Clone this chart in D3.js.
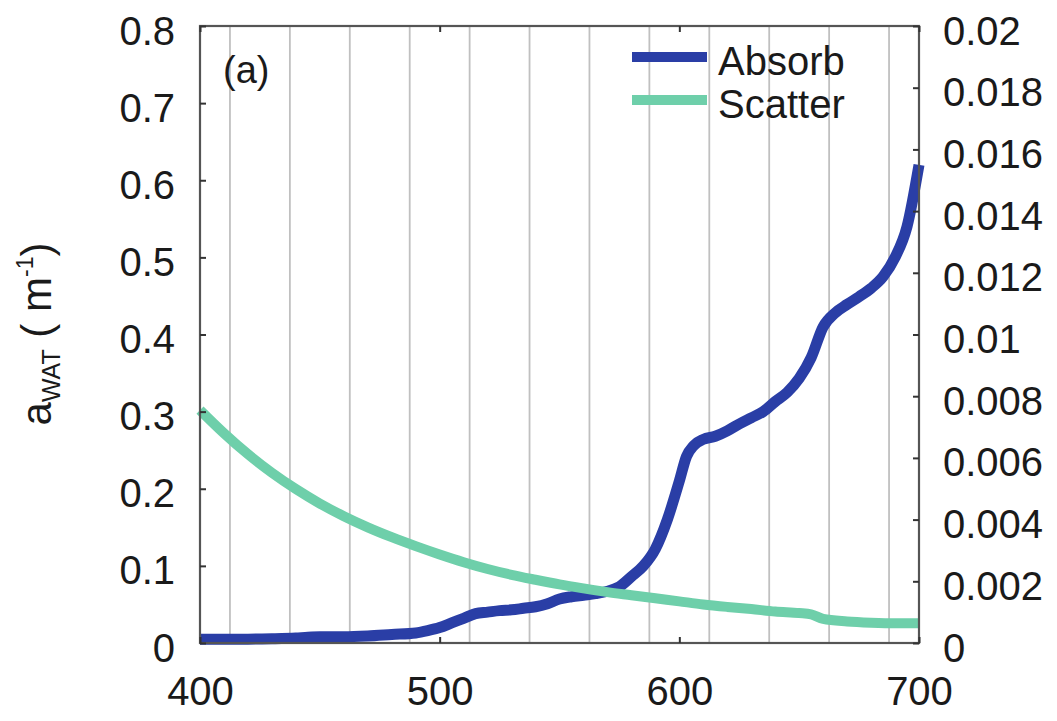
<!DOCTYPE html>
<html>
<head>
<meta charset="utf-8">
<script src="https://cdn.jsdelivr.net/npm/d3@7/dist/d3.min.js"></script>
<style>
  html, body { margin: 0; padding: 0; background: #ffffff; }
  svg { display: block; }
  text { font-family: "Liberation Sans", Arial, Helvetica, sans-serif; fill: #1a1a1a; }
</style>
</head>
<body>
<svg id="chart" width="1057" height="721"></svg>
<script>
// ---------------- data ----------------
const absorbWavelength = [400, 410, 420, 430, 440, 445, 450, 460, 470, 480, 490, 495, 500, 505, 510, 515, 520, 525, 530, 535, 540, 545, 550, 555, 560, 565, 570, 575, 580, 585, 590, 595, 600, 603, 606, 610, 615, 620, 625, 630, 635, 640, 645, 650, 655, 660, 665, 670, 675, 680, 685, 690, 695, 700];
const absorbValue = [0.005, 0.005, 0.005, 0.0055, 0.0065, 0.0075, 0.008, 0.008, 0.009, 0.011, 0.013, 0.016, 0.02, 0.026, 0.032, 0.038, 0.040, 0.042, 0.043, 0.045, 0.047, 0.051, 0.057, 0.060, 0.062, 0.064, 0.067, 0.073, 0.086, 0.100, 0.122, 0.160, 0.210, 0.242, 0.256, 0.264, 0.268, 0.275, 0.284, 0.292, 0.300, 0.313, 0.325, 0.343, 0.370, 0.410, 0.428, 0.439, 0.449, 0.460, 0.475, 0.500, 0.540, 0.620];

const scatterWavelength = [400, 410, 420, 430, 440, 450, 460, 470, 480, 490, 500, 510, 520, 530, 540, 550, 560, 570, 580, 590, 600, 610, 620, 630, 640, 650, 655, 660, 670, 680, 690, 700];
const scatterValue = [0.00755, 0.0068, 0.00612, 0.00552, 0.00499, 0.00452, 0.00411, 0.00375, 0.00343, 0.00314, 0.00287, 0.00262, 0.0024, 0.00221, 0.00205, 0.0019, 0.00177, 0.00165, 0.00155, 0.00145, 0.00135, 0.00125, 0.00117, 0.0011, 0.00102, 0.00097, 0.00093, 0.00078, 0.0007, 0.00066, 0.00064, 0.00064];

const gridWavelengths = [412.5, 437.5, 462.5, 487.5, 512.5, 537.5, 562.5, 587.5, 612.5, 637.5, 662.5, 687.5];

const xTickValues = [400, 500, 600, 700];
const xTickLabels = ["400", "500", "600", "700"];
const leftTickValues = [0, 0.1, 0.2, 0.3, 0.4, 0.5, 0.6, 0.7, 0.8];
const leftTickLabels = ["0", "0.1", "0.2", "0.3", "0.4", "0.5", "0.6", "0.7", "0.8"];
const rightTickValues = [0, 0.002, 0.004, 0.006, 0.008, 0.01, 0.012, 0.014, 0.016, 0.018, 0.02];
const rightTickLabels = ["0", "0.002", "0.004", "0.006", "0.008", "0.01", "0.012", "0.014", "0.016", "0.018", "0.02"];

const seriesNames = ["Absorb", "Scatter"];
const seriesColors = ["#2a3ea6", "#6ecfaa"];
const panelLabel = "(a)";

// ---------------- layout ----------------
const L = 200, R = 919, T = 26, B = 643;
const svg = d3.select("#chart");

const x = d3.scaleLinear().domain([400, 700]).range([L, R]);
const yL = d3.scaleLinear().domain([0, 0.8]).range([B, T]);
const yR = d3.scaleLinear().domain([0, 0.02]).range([B, T]);

// grid lines
svg.append("g").selectAll("line").data(gridWavelengths).join("line")
  .attr("x1", d => x(d)).attr("x2", d => x(d))
  .attr("y1", T).attr("y2", B)
  .attr("stroke", "#c0c0c0").attr("stroke-width", 1.8);

// lines
const absorbData = absorbWavelength.map((w, i) => [w, absorbValue[i]]);
const scatterData = scatterWavelength.map((w, i) => [w, scatterValue[i]]);

const lineL = d3.line().x(d => x(d[0])).y(d => yL(d[1])).curve(d3.curveMonotoneX);
const lineR = d3.line().x(d => x(d[0])).y(d => yR(d[1])).curve(d3.curveMonotoneX);

svg.append("path").datum(absorbData).attr("d", lineL)
  .attr("fill", "none").attr("stroke", seriesColors[0]).attr("stroke-width", 11)
  .attr("stroke-linejoin", "round");
svg.append("path").datum(scatterData).attr("d", lineR)
  .attr("fill", "none").attr("stroke", seriesColors[1]).attr("stroke-width", 10)
  .attr("stroke-linejoin", "round");

// frame
svg.append("rect").attr("x", L).attr("y", T).attr("width", R - L).attr("height", B - T)
  .attr("fill", "none").attr("stroke", "#555").attr("stroke-width", 2.2);

// axes
const fs = 40;
const axL = svg.append("g").attr("transform", `translate(${L},0)`)
  .call(d3.axisLeft(yL).tickValues(leftTickValues).tickFormat((d, i) => leftTickLabels[i]).tickSizeInner(-6).tickSizeOuter(0).tickPadding(25));
const axR = svg.append("g").attr("transform", `translate(${R},0)`)
  .call(d3.axisRight(yR).tickValues(rightTickValues).tickFormat((d, i) => rightTickLabels[i]).tickSizeInner(-6).tickSizeOuter(0).tickPadding(24));
const axB = svg.append("g").attr("transform", `translate(0,${B})`)
  .call(d3.axisBottom(x).tickValues(xTickValues).tickFormat((d, i) => xTickLabels[i]).tickSizeInner(-6).tickSizeOuter(0).tickPadding(34));
const axT = svg.append("g").attr("transform", `translate(0,${T})`)
  .call(d3.axisTop(x).tickValues(xTickValues).tickFormat("").tickSizeInner(-6).tickSizeOuter(0));

[axL, axR, axB, axT].forEach(g => {
  g.select(".domain").remove();
  g.selectAll(".tick line").attr("stroke", "#333").attr("stroke-width", 2);
  g.selectAll(".tick text").attr("font-size", fs).attr("font-family", '"Liberation Sans", Arial, sans-serif').attr("fill", "#1a1a1a");
});
axL.selectAll(".tick text").attr("dy", "0.45em");
axR.selectAll(".tick text").attr("dy", "0.45em");
axB.selectAll(".tick text").attr("dy", "0.71em");

// panel label
svg.append("text").attr("x", 223).attr("y", 83).attr("font-size", 38).text(panelLabel);

// legend
const legY = [57, 100];
const legTextY = [75, 118];
seriesNames.forEach((name, i) => {
  svg.append("line").attr("x1", 632).attr("x2", 707).attr("y1", legY[i]).attr("y2", legY[i])
    .attr("stroke", seriesColors[i]).attr("stroke-width", 10);
  svg.append("text").attr("x", 718).attr("y", legTextY[i]).attr("font-size", fs).text(name);
});

// y label
const yl = svg.append("text")
  .attr("transform", "translate(51,334) rotate(-90)")
  .attr("text-anchor", "middle")
  .attr("font-size", 42);
yl.append("tspan").text("a");
yl.append("tspan").attr("font-size", 25).attr("dy", 9).text("WAT");
yl.append("tspan").attr("dy", -9).text("\u00a0( m");
yl.append("tspan").attr("font-size", 23).attr("dy", -18).text("-1");
yl.append("tspan").attr("dy", 18).text(")");
</script>
</body>
</html>
